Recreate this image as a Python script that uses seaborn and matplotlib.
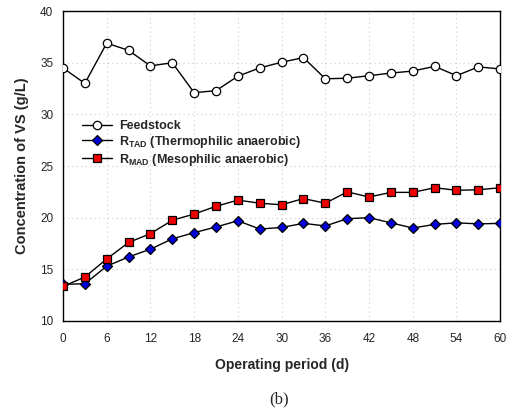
import matplotlib
matplotlib.use("Agg")
import matplotlib.pyplot as plt
import seaborn as sns
import pandas as pd

days = [0, 3, 6, 9, 12, 15, 18, 21, 24, 27, 30, 33, 36, 39, 42, 45, 48, 51, 54, 57, 60]
feedstock = [34.5, 33.0, 36.9, 36.2, 34.7, 35.0, 32.1, 32.3, 33.7, 34.5, 35.05, 35.5,
             33.45, 33.5, 33.75, 34.0, 34.2, 34.65, 33.75, 34.6, 34.4]
r_tad = [13.55, 13.6, 15.3, 16.2, 16.95, 17.95, 18.55, 19.1, 19.7, 18.9, 19.05, 19.45,
         19.2, 19.9, 20.0, 19.5, 19.0, 19.35, 19.5, 19.4, 19.45]
r_mad = [13.35, 14.25, 16.0, 17.6, 18.45, 19.75, 20.35, 21.1, 21.7, 21.4, 21.25, 21.85,
         21.4, 22.5, 22.0, 22.45, 22.45, 22.9, 22.65, 22.7, 22.9]
series_names = ["Feedstock", r"R$_{\mathregular{TAD}}$ (Thermophilic anaerobic)",
                r"R$_{\mathregular{MAD}}$ (Mesophilic anaerobic)"]
x_ticks = [0, 6, 12, 18, 24, 30, 36, 42, 48, 54, 60]
y_ticks = [10, 15, 20, 25, 30, 35, 40]

sns.set_style("white")
plt.rcParams['font.family'] = ['Liberation Sans', 'DejaVu Sans']

df = pd.DataFrame({
    "day": days * 3,
    "value": feedstock + r_tad + r_mad,
    "series": [series_names[0]] * len(days) + [series_names[1]] * len(days) + [series_names[2]] * len(days),
})

fig = plt.figure(figsize=(5.12, 4.12), dpi=100)
ax = fig.add_axes([0.123, 0.221, 0.854, 0.752])

styles = [
    dict(marker="o", mfc="white", ms=6),
    dict(marker="D", mfc="#0000dd", ms=5.5),
    dict(marker="s", mfc="#ee0000", ms=5.5),
]
for name, st in zip(series_names, styles):
    sub = df[df["series"] == name]
    sns.lineplot(data=sub, x="day", y="value", ax=ax, color="black", lw=1.0,
                 marker=st["marker"], markerfacecolor=st["mfc"], markeredgecolor="black",
                 markeredgewidth=0.9, markersize=st["ms"], label=name, zorder=3)

ax.set_xlim(0, 60)
ax.set_ylim(10, 40)
ax.set_xticks(x_ticks)
ax.set_yticks(y_ticks)
ax.grid(True, color="#cccccc", linestyle=(0, (1, 3)), lw=0.8)
for s in ax.spines.values():
    s.set_color("black")
    s.set_linewidth(1.0)
ax.tick_params(axis="y", direction="out", length=4, width=1, labelsize=8.5, pad=3)
ax.tick_params(axis="x", direction="out", length=3, width=1, labelsize=8.5, pad=6)
ax.set_xlabel("Operating period (d)", fontsize=10, fontweight="bold", labelpad=9)
ax.set_ylabel("Concentration of VS (g/L)", fontsize=10.5, fontweight="bold", labelpad=8)

leg = ax.legend(loc="upper left", bbox_to_anchor=(0.033, 0.665), frameon=False,
                prop=dict(weight="bold", size=9), handlelength=2.4,
                labelspacing=0.15, handletextpad=0.5, borderaxespad=0)

fig.text(0.545, 0.03, "(b)", ha="center", va="center", fontsize=12,
         family=["Liberation Serif", "DejaVu Serif"])

fig.savefig("out.png", dpi=100)
